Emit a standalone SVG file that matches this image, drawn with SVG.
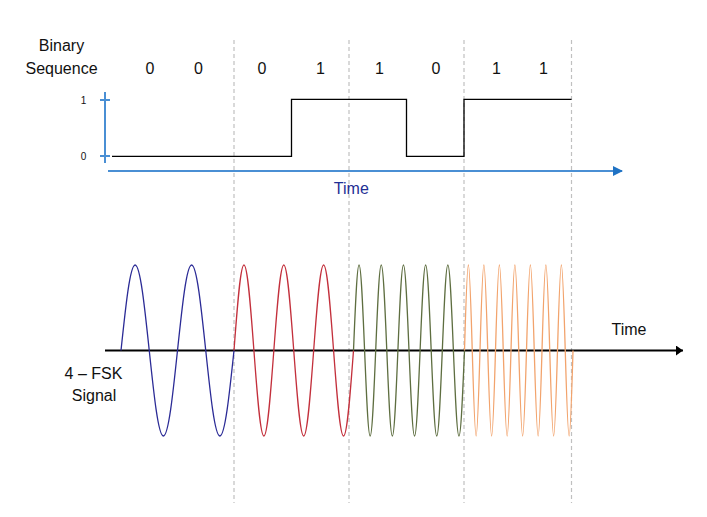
<svg xmlns="http://www.w3.org/2000/svg" width="707" height="517" viewBox="0 0 707 517">
<style>
text{font-family:"Liberation Sans",Arial,sans-serif;fill:#111;}
.lbl{font-size:16px;text-anchor:middle;}
.tick{font-size:10px;text-anchor:middle;}
.grid{stroke:#c0c0c0;stroke-width:1.2;stroke-dasharray:4 3;fill:none;}
.wave{fill:none;stroke-width:1.3;}
.baxis{stroke:#4a8fd4;stroke-width:2;fill:none;}
</style>
<defs>
<marker id="arrBlue" markerWidth="10" markerHeight="10" refX="9" refY="5" orient="auto" markerUnits="userSpaceOnUse">
<path d="M0,0 L10,5 L0,10 Z" fill="#1f72c4"/>
</marker>
<marker id="arrBlack" markerWidth="8" markerHeight="10" refX="7" refY="5" orient="auto" markerUnits="userSpaceOnUse">
<path d="M0,0 L7,5 L0,10 Z" fill="#000"/>
</marker>
</defs>
<rect width="707" height="517" fill="#fff"/>
<g id="grid">
<line class="grid" x1="234" y1="40" x2="234" y2="503"/>
<line class="grid" x1="349" y1="40" x2="349" y2="503"/>
<line class="grid" x1="464" y1="40" x2="464" y2="503"/>
<line class="grid" x1="571.5" y1="40" x2="571.5" y2="503"/>
</g>
<g id="binary-sequence">
<text class="lbl" x="61.5" y="51">Binary</text>
<text class="lbl" x="61.5" y="74">Sequence</text>
<text class="lbl" x="150" y="74">0</text>
<text class="lbl" x="198.5" y="74">0</text>
<text class="lbl" x="262" y="74">0</text>
<text class="lbl" x="320.5" y="74">1</text>
<text class="lbl" x="379.5" y="74">1</text>
<text class="lbl" x="436" y="74">0</text>
<text class="lbl" x="496.5" y="74">1</text>
<text class="lbl" x="543.5" y="74">1</text>
</g>
<g id="digital-plot">
<line class="baxis" x1="105" y1="92" x2="105" y2="163"/>
<line class="baxis" x1="100" y1="100" x2="110" y2="100" stroke-width="1.5"/>
<line class="baxis" x1="100" y1="156" x2="110" y2="156" stroke-width="1.5"/>
<text class="tick" x="83.5" y="103.5">1</text>
<text class="tick" x="83.5" y="160">0</text>
<path d="M112,156.3 H291.5 V99.3 H406.5 V156.3 H464 V99.3 H571.5" fill="none" stroke="#000" stroke-width="1.3"/>
</g>
<g id="connectors">
<line class="baxis" x1="108" y1="171" x2="622" y2="171" marker-end="url(#arrBlue)"/>
<line x1="105" y1="350.5" x2="683" y2="350.5" stroke="#000" stroke-width="2" marker-end="url(#arrBlack)"/>
</g>
<g id="time-top">
<text class="lbl" x="351.3" y="193.5" style="fill:#1f2f95">Time</text>
</g>
<g id="fsk-signal">
<path class="wave" stroke="#2b2b96" d="M121,350.5 c4.606,-43.8 9.013,-85.5 14.125,-85.5 c5.112,0 9.519,41.7 14.125,85.5 c4.606,43.8 9.013,85.5 14.125,85.5 c5.112,0 9.519,-41.7 14.125,-85.5 c4.606,-43.8 9.013,-85.5 14.125,-85.5 c5.112,0 9.519,41.7 14.125,85.5 c4.606,43.8 9.013,85.5 14.125,85.5 c5.112,0 9.519,-41.7 14.125,-85.5"/>
<path class="wave" stroke="#c3303c" d="M234,350.5 c3.247,-43.8 6.355,-85.5 9.958,-85.5 c3.604,0 6.711,41.7 9.958,85.5 c3.247,43.8 6.355,85.5 9.958,85.5 c3.604,0 6.711,-41.7 9.958,-85.5 c3.247,-43.8 6.355,-85.5 9.958,-85.5 c3.604,0 6.711,41.7 9.958,85.5 c3.247,43.8 6.355,85.5 9.958,85.5 c3.604,0 6.711,-41.7 9.958,-85.5 c3.247,-43.8 6.355,-85.5 9.958,-85.5 c3.604,0 6.711,41.7 9.958,85.5 c3.247,43.8 6.355,85.5 9.958,85.5 c3.604,0 6.711,-41.7 9.958,-85.5"/>
<path class="wave" stroke="#5e6e40" d="M353.5,350.5 c1.81,-43.8 3.541,-85.5 5.55,-85.5 c2.009,0 3.74,41.7 5.55,85.5 c1.81,43.8 3.541,85.5 5.55,85.5 c2.009,0 3.74,-41.7 5.55,-85.5 c1.81,-43.8 3.541,-85.5 5.55,-85.5 c2.009,0 3.74,41.7 5.55,85.5 c1.81,43.8 3.541,85.5 5.55,85.5 c2.009,0 3.74,-41.7 5.55,-85.5 c1.81,-43.8 3.541,-85.5 5.55,-85.5 c2.009,0 3.74,41.7 5.55,85.5 c1.81,43.8 3.541,85.5 5.55,85.5 c2.009,0 3.74,-41.7 5.55,-85.5 c1.81,-43.8 3.541,-85.5 5.55,-85.5 c2.009,0 3.74,41.7 5.55,85.5 c1.81,43.8 3.541,85.5 5.55,85.5 c2.009,0 3.74,-41.7 5.55,-85.5 c1.81,-43.8 3.541,-85.5 5.55,-85.5 c2.009,0 3.74,41.7 5.55,85.5 c1.81,43.8 3.541,85.5 5.55,85.5 c2.009,0 3.74,-41.7 5.55,-85.5"/>
<path class="wave" stroke="#f2a36c" d="M464.5,350.5 c1.264,-43.8 2.473,-85.5 3.875,-85.5 c1.402,0 2.611,41.7 3.875,85.5 c1.264,43.8 2.473,85.5 3.875,85.5 c1.402,0 2.611,-41.7 3.875,-85.5 c1.264,-43.8 2.473,-85.5 3.875,-85.5 c1.402,0 2.611,41.7 3.875,85.5 c1.264,43.8 2.473,85.5 3.875,85.5 c1.402,0 2.611,-41.7 3.875,-85.5 c1.264,-43.8 2.473,-85.5 3.875,-85.5 c1.402,0 2.611,41.7 3.875,85.5 c1.264,43.8 2.473,85.5 3.875,85.5 c1.402,0 2.611,-41.7 3.875,-85.5 c1.264,-43.8 2.473,-85.5 3.875,-85.5 c1.402,0 2.611,41.7 3.875,85.5 c1.264,43.8 2.473,85.5 3.875,85.5 c1.402,0 2.611,-41.7 3.875,-85.5 c1.264,-43.8 2.473,-85.5 3.875,-85.5 c1.402,0 2.611,41.7 3.875,85.5 c1.264,43.8 2.473,85.5 3.875,85.5 c1.402,0 2.611,-41.7 3.875,-85.5 c1.264,-43.8 2.473,-85.5 3.875,-85.5 c1.402,0 2.611,41.7 3.875,85.5 c1.264,43.8 2.473,85.5 3.875,85.5 c1.402,0 2.611,-41.7 3.875,-85.5 c1.264,-43.8 2.473,-85.5 3.875,-85.5 c1.402,0 2.611,41.7 3.875,85.5 c1.264,43.8 2.473,85.5 3.875,85.5 c1.402,0 2.611,-41.7 3.875,-85.5"/>
</g>
<g id="time-bottom">
<text class="lbl" x="629" y="335">Time</text>
</g>
<g id="fsk-label">
<text class="lbl" x="93.5" y="379">4 – FSK</text>
<text class="lbl" x="94" y="401">Signal</text>
</g>
</svg>
